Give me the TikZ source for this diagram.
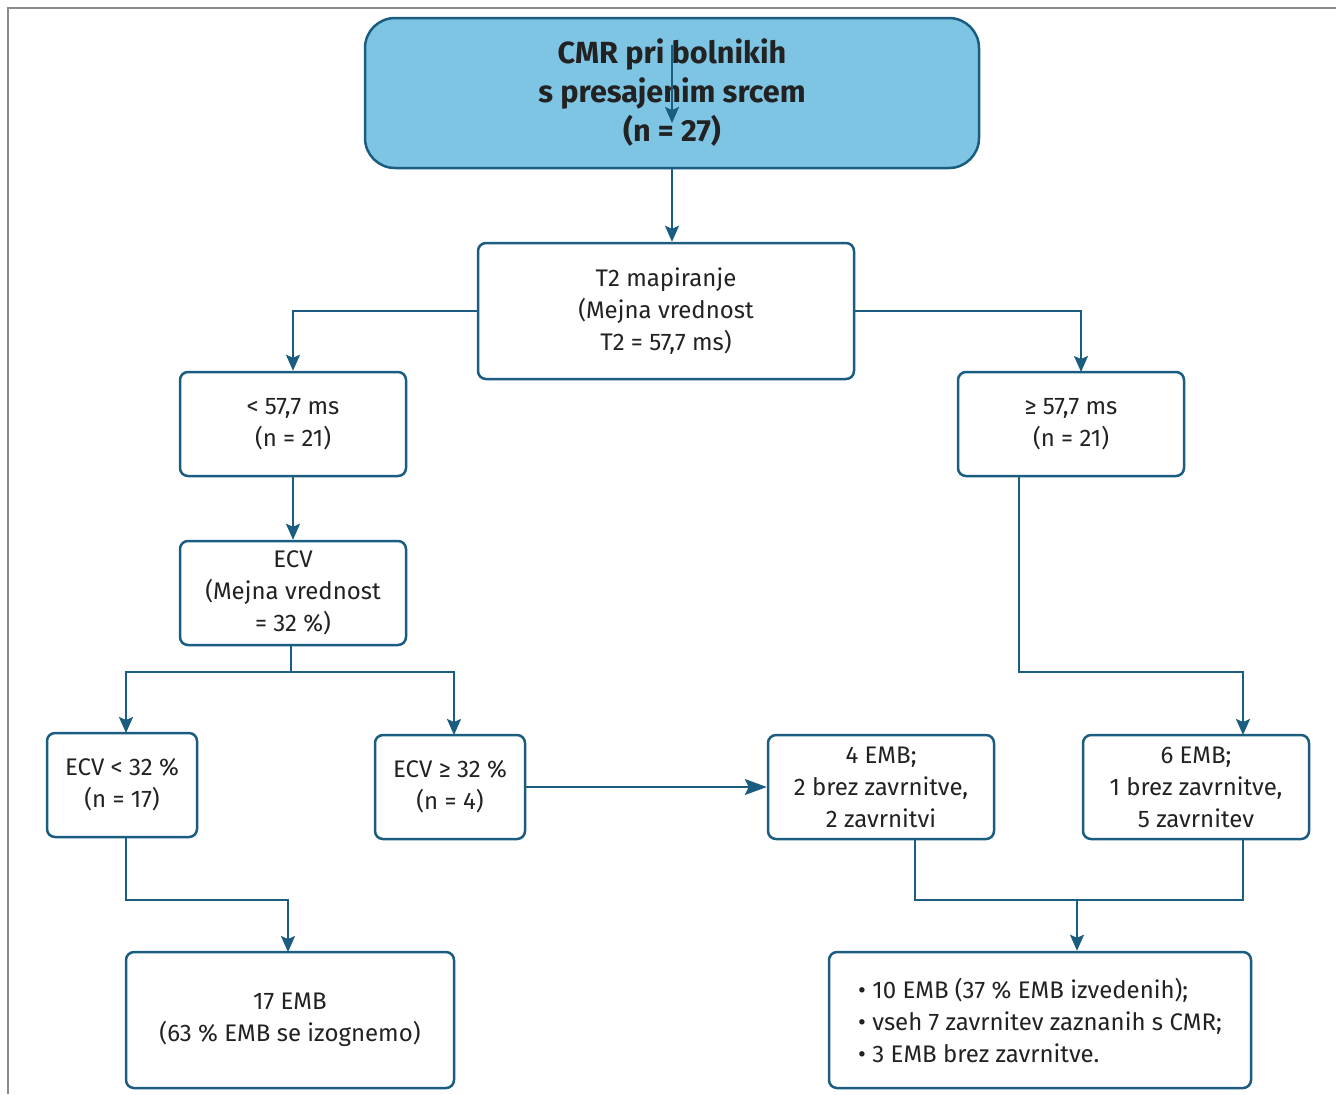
\documentclass[tikz,border=0pt]{standalone}
\usepackage{fontspec}
\setmainfont{Fira Sans}
\usetikzlibrary{arrows.meta, positioning}
\definecolor{edgeblue}{HTML}{1B5D80}
\definecolor{titlefill}{HTML}{7EC5E4}
\definecolor{txtdark}{HTML}{222222}
\definecolor{framegray}{HTML}{8A8A8A}

\begin{document}
\begin{tikzpicture}[
  x=0.5pt, y=-0.5pt,
  >={Stealth[length=8pt, width=7pt, inset=1.5pt]},
  box/.style={draw=edgeblue, line width=1.25pt, fill=white, rounded corners=4pt,
    font=\fontsize{12}{16}\selectfont, text=txtdark, align=center, inner sep=0pt},
  arr/.style={->, line width=1pt, edgeblue},
  link/.style={line width=1pt, edgeblue},
]

% Page and frame
\useasboundingbox (0,0) rectangle (1336,1094);
\draw[framegray, line width=1pt] (8,1094) -- (8,8) -- (1336,8);

% === Top ===
\node[box, fill=titlefill, rounded corners=15pt, minimum width=307pt, minimum height=75pt,
  font=\fontsize{15.3}{19.5}\selectfont\bfseries] (title) at (672,93)
  {CMR pri bolnikih\\s presajenim srcem\\(n = 27)};
\coordinate (stray_a) at (672,45);
\coordinate (stray_b) at (672,123);
\draw[arr] (stray_a) -- (stray_b);

\node[box, minimum width=188pt, minimum height=68pt] (t2) at (666,311)
  {T2 mapiranje\\(Mejna vrednost\\T2 = 57,7 ms)};
\draw[arr] (title.south) -- (title.south |- t2.north);

% === Second row ===
\node[box, minimum width=113pt, minimum height=52pt] (low) at (293,424)
  {< 57,7 ms\\(n = 21)};
\node[box, minimum width=113pt, minimum height=52pt] (high) at (1071,424)
  {≥ 57,7 ms\\(n = 21)};
\coordinate (high_in) at (1081,372);
\draw[arr] (t2.west) -| (low.north);
\draw[arr] (t2.east) -| (high_in);

% === ECV ===
\node[box, minimum width=113pt, minimum height=52pt] (ecv) at (293,593)
  {ECV\\(Mejna vrednost\\= 32 \%)};
\draw[arr] (low.south) -- (ecv.north);

\node[box, minimum width=75pt, minimum height=52pt] (ecvlow) at (122,785)
  {ECV < 32 \%\\(n = 17)};
\node[box, minimum width=75pt, minimum height=52pt] (ecvhigh) at (450,787)
  {ECV ≥ 32 \%\\(n = 4)};
\coordinate (ecv_split) at (291,672);
\coordinate (ecvlow_in) at (126,733);
\coordinate (ecvhigh_in) at (454,735);
\draw[link] (ecv.south -| ecv_split) -- (ecv_split);
\draw[arr] (ecv_split) -| (ecvlow_in);
\draw[arr] (ecv_split) -| (ecvhigh_in);

% === EMB boxes ===
\node[box, minimum width=113pt, minimum height=52pt] (emb4) at (881,787)
  {4 EMB;\\2 brez zavrnitve,\\2 zavrnitvi};
\node[box, minimum width=113pt, minimum height=52pt] (emb6) at (1196,787)
  {6 EMB;\\1 brez zavrnitve,\\5 zavrnitev};
\draw[arr, -{Stealth[length=11pt, width=8pt, inset=2pt]}] (ecvhigh.east) -- (emb4.west);
\coordinate (high_out) at (1019,477);
\coordinate (emb6_in) at (1243,735);
\draw[arr] (high_out) -- (1019,672) -| (emb6_in);

% === Bottom ===
\node[box, minimum width=164pt, minimum height=68pt] (skip) at (290,1020)
  {17 EMB\\(63 \% EMB se izognemo)};
\coordinate (ecvlow_out) at (126,838);
\coordinate (skip_in) at (288,952);
\draw[arr] (ecvlow_out) -- (126,900) -| (skip_in);

\node[box, minimum width=211pt, minimum height=68pt, align=left] (done) at (1040,1020)
  {• 10 EMB (37 \% EMB izvedenih);\\• vseh 7 zavrnitev zaznanih s CMR;\\• 3 EMB brez zavrnitve.};
\coordinate (emb4_out) at (915,840);
\coordinate (emb6_out) at (1243,840);
\coordinate (join) at (1077,900);
\draw[link] (emb4_out) |- (join);
\draw[link] (emb6_out) |- (join);
\draw[arr] (join) -- (done.north -| join);

\end{tikzpicture}
\end{document}
